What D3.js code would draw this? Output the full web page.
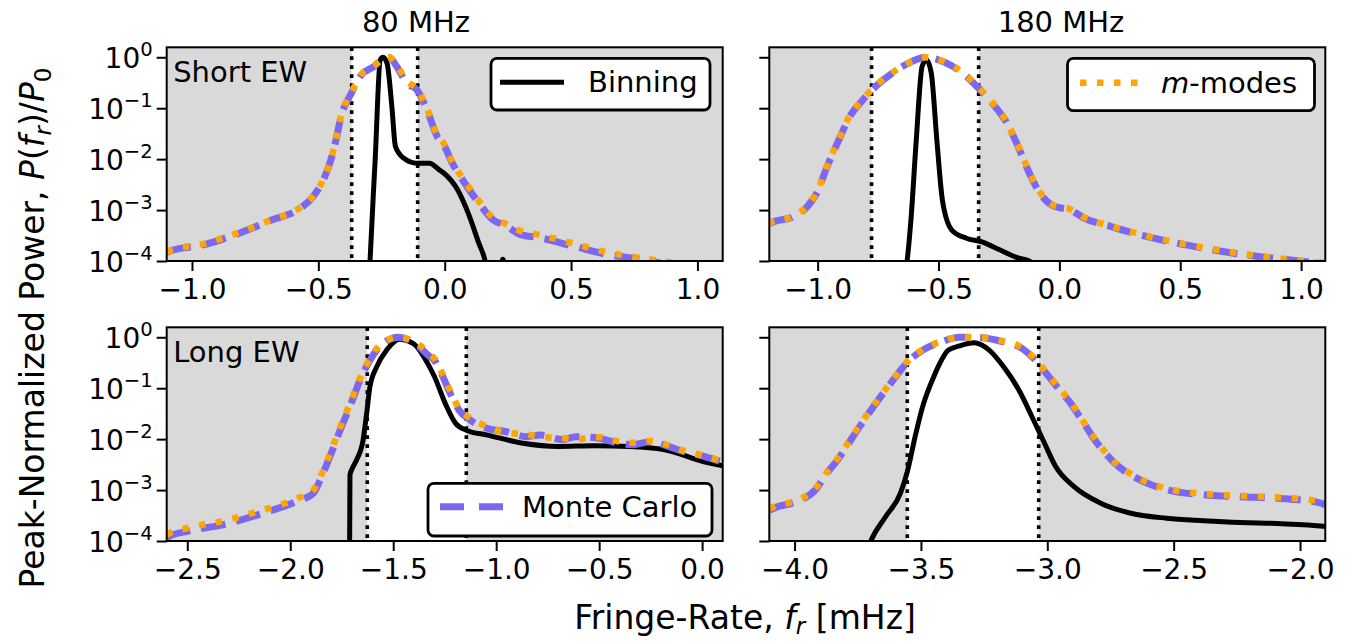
<!DOCTYPE html>
<html>
<head>
<meta charset="utf-8">
<script src="https://cdn.jsdelivr.net/npm/d3@7"></script>
<style>
  body { margin: 0; background: #fff; }
  text { font-family: "DejaVu Sans", sans-serif; }
</style>
</head>
<body>
<div id="chart"></div>
<script>
// ---- Data: [fringe rate (mHz), peak-normalized power] ----

// 80 MHz, Short EW
const shortLowBinning = [[-0.300, 3e-5], [-0.296, 8.9e-5], [-0.275, 0.010], [-0.255, 0.89], [-0.244, 1.0],
  [-0.228, 0.76], [-0.209, 0.107], [-0.195, 0.0178], [-0.163, 0.0105], [-0.110, 0.0083], [-0.060, 0.0083],
  [-0.024, 0.0063], [-0.005, 0.0054], [0.051, 0.0025], [0.093, 8.7e-4], [0.135, 2.24e-4], [0.160, 1.0e-4],
  [0.175, 4e-5], [0.215, 5e-5], [0.230, 1.08e-4], [0.245, 5e-5]]
const shortLowMC = [[-1.10, 1.45e-4], [-1.09, 1.55e-4], [-0.95, 2.1e-4], [-0.81, 3.55e-4], [-0.68, 6.5e-4],
  [-0.58, 1.02e-3], [-0.52, 1.86e-3], [-0.48, 3.9e-3], [-0.45, 9.8e-3], [-0.43, 0.024], [-0.41, 0.069],
  [-0.37, 0.195], [-0.33, 0.45], [-0.28, 0.66], [-0.25, 0.89], [-0.22, 1.0], [-0.19, 0.66], [-0.15, 0.31],
  [-0.11, 0.23], [-0.07, 0.093], [-0.03, 0.028], [0.00, 0.0178], [0.023, 0.0098], [0.079, 0.0034],
  [0.135, 1.38e-3], [0.19, 6.5e-4], [0.24, 5.0e-4], [0.30, 3.3e-4], [0.37, 2.9e-4], [0.51, 1.95e-4],
  [0.65, 1.32e-4], [0.79, 1.05e-4], [0.95, 7e-5], [1.10, 5e-5]]
const shortLowMM = [[-1.10, 1.5e-4], [-1.09, 1.58e-4], [-0.95, 2.2e-4], [-0.81, 3.7e-4], [-0.68, 6.6e-4],
  [-0.58, 1.05e-3], [-0.52, 1.9e-3], [-0.48, 4.0e-3], [-0.45, 0.010], [-0.43, 0.025], [-0.41, 0.072],
  [-0.37, 0.20], [-0.33, 0.46], [-0.28, 0.68], [-0.25, 0.90], [-0.22, 1.0], [-0.19, 0.70], [-0.15, 0.34],
  [-0.11, 0.24], [-0.07, 0.10], [-0.03, 0.030], [0.00, 0.019], [0.023, 0.0105], [0.079, 0.0037],
  [0.135, 1.5e-3], [0.19, 7.2e-4], [0.24, 5.4e-4], [0.30, 3.9e-4], [0.37, 3.3e-4], [0.51, 2.2e-4],
  [0.65, 1.45e-4], [0.79, 1.12e-4], [0.95, 8.5e-5], [1.10, 6e-5]]
const shortLowEdges = [-0.368, -0.107]

// 180 MHz, Short EW
const shortHighBinning = [[-0.640, 5e-5], [-0.630, 1.0e-4], [-0.614, 6.5e-4], [-0.592, 0.024], [-0.568, 0.66],
  [-0.550, 0.89], [-0.530, 0.49], [-0.507, 0.024], [-0.484, 1.58e-3], [-0.446, 4.1e-4], [-0.385, 2.8e-4],
  [-0.324, 2.4e-4], [-0.247, 1.66e-4], [-0.171, 1.15e-4], [-0.125, 1.0e-4], [-0.080, 7e-5]]
const shortHighMC = [[-1.20, 5.0e-4], [-1.195, 5.5e-4], [-1.103, 7.4e-4], [-1.043, 1.17e-3], [-0.997, 2.5e-3],
  [-0.966, 6.2e-3], [-0.912, 0.024], [-0.867, 0.069], [-0.813, 0.145], [-0.752, 0.29], [-0.691, 0.49],
  [-0.630, 0.74], [-0.553, 1.0], [-0.477, 0.81], [-0.400, 0.49], [-0.339, 0.26], [-0.278, 0.126],
  [-0.217, 0.051], [-0.171, 0.0178], [-0.125, 5.4e-3], [-0.079, 2.1e-3], [-0.018, 1.17e-3], [0.043, 1.02e-3],
  [0.104, 6.9e-4], [0.211, 4.8e-4], [0.364, 3.0e-4], [0.517, 2.1e-4], [0.670, 1.55e-4], [0.823, 1.23e-4],
  [0.976, 1.02e-4], [1.10, 8.9e-5]]
const shortHighMM = [[-1.20, 5.1e-4], [-1.195, 5.6e-4], [-1.103, 7.5e-4], [-1.043, 1.2e-3], [-0.997, 2.6e-3],
  [-0.966, 6.4e-3], [-0.912, 0.025], [-0.867, 0.071], [-0.813, 0.15], [-0.752, 0.30], [-0.691, 0.50],
  [-0.630, 0.75], [-0.553, 1.0], [-0.477, 0.82], [-0.400, 0.50], [-0.339, 0.27], [-0.278, 0.13],
  [-0.217, 0.053], [-0.171, 0.0185], [-0.125, 5.6e-3], [-0.079, 2.2e-3], [-0.018, 1.2e-3], [0.043, 1.05e-3],
  [0.104, 7.1e-4], [0.211, 4.9e-4], [0.364, 3.1e-4], [0.517, 2.15e-4], [0.670, 1.6e-4], [0.823, 1.26e-4],
  [0.976, 1.04e-4], [1.10, 9e-5]]
const shortHighEdges = [-0.777, -0.334]

// 80 MHz, Long EW
const longLowBinning = [[-1.712, 5e-5], [-1.710, 2.0e-3], [-1.700, 2.6e-3], [-1.678, 3.9e-3], [-1.646, 9.8e-3],
  [-1.629, 0.032], [-1.613, 0.107], [-1.581, 0.26], [-1.532, 0.56], [-1.468, 0.91], [-1.404, 0.76],
  [-1.323, 0.26], [-1.300, 0.17], [-1.248, 0.051], [-1.197, 0.0204], [-1.145, 0.015], [-1.042, 0.012],
  [-0.870, 0.0083], [-0.697, 0.0072], [-0.526, 0.0074], [-0.353, 0.0072], [-0.181, 0.0062], [0.009, 0.0036],
  [0.100, 0.0030]]
const longLowMC = [[-2.60, 1.12e-4], [-2.589, 1.23e-4], [-2.50, 1.55e-4], [-2.323, 2.1e-4], [-2.129, 3.55e-4],
  [-1.968, 6.0e-4], [-1.888, 8.7e-4], [-1.847, 1.86e-3], [-1.807, 4.6e-3], [-1.758, 0.015], [-1.710, 0.044],
  [-1.661, 0.145], [-1.613, 0.355], [-1.549, 0.76], [-1.476, 1.0], [-1.404, 0.81], [-1.323, 0.42],
  [-1.300, 0.355], [-1.266, 0.195], [-1.223, 0.079], [-1.180, 0.037], [-1.128, 0.024], [-1.042, 0.0162],
  [-0.956, 0.0141], [-0.853, 0.0112], [-0.784, 0.012], [-0.680, 0.0098], [-0.612, 0.0112], [-0.508, 0.0105],
  [-0.405, 0.0083], [-0.336, 0.0078], [-0.250, 0.0089], [-0.164, 0.0072], [-0.095, 0.0058], [0.009, 0.0046],
  [0.100, 0.00355]]
const longLowMM = [[-2.60, 1.3e-4], [-2.589, 1.4e-4], [-2.50, 1.8e-4], [-2.323, 2.5e-4], [-2.129, 4.1e-4],
  [-1.968, 6.8e-4], [-1.888, 1.0e-3], [-1.847, 2.1e-3], [-1.807, 5.2e-3], [-1.758, 0.017], [-1.710, 0.05],
  [-1.661, 0.16], [-1.613, 0.38], [-1.549, 0.80], [-1.476, 1.0], [-1.404, 0.85], [-1.323, 0.47],
  [-1.300, 0.38], [-1.266, 0.21], [-1.223, 0.088], [-1.180, 0.040], [-1.128, 0.026], [-1.042, 0.0175],
  [-0.956, 0.0135], [-0.853, 0.0125], [-0.784, 0.0110], [-0.680, 0.0105], [-0.612, 0.0100], [-0.508, 0.0110],
  [-0.405, 0.0090], [-0.336, 0.0085], [-0.250, 0.0092], [-0.164, 0.0076], [-0.095, 0.0060], [0.009, 0.0047],
  [0.100, 0.0036]]
const longLowEdges = [-1.626, -1.145]

// 180 MHz, Long EW
const longHighBinning = [[-3.720, 5e-5], [-3.698, 1.0e-4], [-3.640, 3.0e-4], [-3.581, 8.7e-4], [-3.552, 2.5e-3],
  [-3.523, 0.0112], [-3.493, 0.044], [-3.449, 0.17], [-3.391, 0.56], [-3.347, 0.68], [-3.289, 0.78],
  [-3.230, 0.56], [-3.172, 0.26], [-3.113, 0.093], [-3.055, 0.024], [-3.011, 8.3e-3], [-2.967, 2.9e-3],
  [-2.894, 1.17e-3], [-2.791, 5.6e-4], [-2.674, 3.55e-4], [-2.528, 2.8e-4], [-2.382, 2.5e-4], [-2.236, 2.3e-4],
  [-2.089, 2.2e-4], [-1.907, 1.95e-4], [-1.900, 1.93e-4]]
const longHighMC = [[-4.10, 4.0e-4], [-4.078, 4.5e-4], [-3.990, 6.0e-4], [-3.917, 1.02e-3], [-3.874, 2.1e-3],
  [-3.830, 3.9e-3], [-3.786, 8.3e-3], [-3.742, 0.0178], [-3.698, 0.037], [-3.654, 0.074], [-3.610, 0.145],
  [-3.552, 0.33], [-3.493, 0.56], [-3.420, 0.81], [-3.347, 1.0], [-3.259, 0.98], [-3.172, 0.81],
  [-3.113, 0.66], [-3.055, 0.39], [-3.004, 0.195], [-2.952, 0.093], [-2.908, 0.051], [-2.864, 0.024],
  [-2.821, 0.0112], [-2.777, 5.8e-3], [-2.718, 2.9e-3], [-2.660, 1.86e-3], [-2.587, 1.26e-3], [-2.528, 1.02e-3],
  [-2.382, 8.1e-4], [-2.236, 7.4e-4], [-2.089, 6.9e-4], [-2.017, 6.5e-4], [-1.914, 5.5e-4], [-1.900, 5.0e-4]]
const longHighMM = [[-4.10, 4.3e-4], [-4.078, 4.8e-4], [-3.990, 6.3e-4], [-3.917, 1.08e-3], [-3.874, 2.2e-3],
  [-3.830, 4.1e-3], [-3.786, 8.8e-3], [-3.742, 0.019], [-3.698, 0.039], [-3.654, 0.077], [-3.610, 0.15],
  [-3.552, 0.34], [-3.493, 0.58], [-3.420, 0.83], [-3.347, 1.0], [-3.259, 0.99], [-3.172, 0.83],
  [-3.113, 0.68], [-3.055, 0.41], [-3.004, 0.205], [-2.952, 0.098], [-2.908, 0.054], [-2.864, 0.025],
  [-2.821, 0.0118], [-2.777, 6.1e-3], [-2.718, 3.0e-3], [-2.660, 1.95e-3], [-2.587, 1.32e-3], [-2.528, 1.07e-3],
  [-2.382, 8.5e-4], [-2.236, 7.7e-4], [-2.089, 7.2e-4], [-2.017, 6.8e-4], [-1.914, 5.9e-4], [-1.900, 5.5e-4]]
const longHighEdges = [-3.554, -3.034]

const colTitles = ["80 MHz", "180 MHz"]
const rowLabels = ["Short EW", "Long EW"]
const yTickValues = [1e-4, 1e-3, 1e-2, 1e-1, 1]
const yTickExponents = ["\u22124", "\u22123", "\u22122", "\u22121", "0"]
const xTicksShortLow = [-1.0, -0.5, 0.0, 0.5, 1.0]
const xTicksShortHigh = [-1.0, -0.5, 0.0, 0.5, 1.0]
const xTicksLongLow = [-2.5, -2.0, -1.5, -1.0, -0.5, 0.0]
const xTicksLongHigh = [-4.0, -3.5, -3.0, -2.5, -2.0]

// ---- Layout ----
const W = 1351, H = 643
const panelW = 556, panelH = 213.7
const colLeft = [166.7, 769.3]
const rowTop = [47.3, 327.3]
const titleX = [416, 1061]
const fontSize = 28
const labelSize = 33

const colors = {
    binning: "#000000",
    mc: "#7b68ee",
    mm: "#ffa500",
    shade: "#d9d9d9"
}

const svg = d3.select("#chart")
    .append("svg")
    .attr("width", W)
    .attr("height", H)
    .style("font-family", "'DejaVu Sans', sans-serif")

const panels = [
    {row: 0, col: 0, xDomain: [-1.1, 1.1], ticks: xTicksShortLow, edges: shortLowEdges,
     binning: shortLowBinning, mc: shortLowMC, mm: shortLowMM},
    {row: 0, col: 1, xDomain: [-1.2, 1.1], ticks: xTicksShortHigh, edges: shortHighEdges,
     binning: shortHighBinning, mc: shortHighMC, mm: shortHighMM},
    {row: 1, col: 0, xDomain: [-2.6, 0.1], ticks: xTicksLongLow, edges: longLowEdges,
     binning: longLowBinning, mc: longLowMC, mm: longLowMM},
    {row: 1, col: 1, xDomain: [-4.1, -1.9], ticks: xTicksLongHigh, edges: longHighEdges,
     binning: longHighBinning, mc: longHighMC, mm: longHighMM}
]

const fmt = d3.format(".1f")

panels.forEach((p, i) => {
    const left = colLeft[p.col], top = rowTop[p.row]
    const g = svg.append("g").attr("transform", `translate(${left},${top})`)

    const x = d3.scaleLinear().domain(p.xDomain).range([0, panelW])
    const y = d3.scaleLog().domain([1e-4, 1.57]).range([panelH, 0])

    // clip
    g.append("clipPath").attr("id", "clip" + i)
        .append("rect").attr("width", panelW).attr("height", panelH)
    const plot = g.append("g").attr("clip-path", `url(#clip${i})`)

    // shaded background outside the edges
    plot.append("rect")
        .attr("x", 0).attr("y", 0)
        .attr("width", x(p.edges[0])).attr("height", panelH)
        .attr("fill", colors.shade)
    plot.append("rect")
        .attr("x", x(p.edges[1])).attr("y", 0)
        .attr("width", panelW - x(p.edges[1])).attr("height", panelH)
        .attr("fill", colors.shade)

    // edge lines
    plot.selectAll(".edge")
        .data(p.edges)
        .enter()
        .append("line")
        .attr("x1", d => x(d)).attr("x2", d => x(d))
        .attr("y1", 0).attr("y2", panelH)
        .attr("stroke", "black")
        .attr("stroke-width", 3.6)
        .attr("stroke-dasharray", "3.6,5.4")

    const line = d3.line()
        .x(d => x(d[0]))
        .y(d => y(d[1]))
        .curve(d3.curveMonotoneX)

    plot.append("path").datum(p.binning)
        .attr("d", line)
        .attr("fill", "none")
        .attr("stroke", colors.binning)
        .attr("stroke-width", 5)
        .attr("stroke-linejoin", "round")

    plot.append("path").datum(p.mc)
        .attr("d", line)
        .attr("fill", "none")
        .attr("stroke", colors.mc)
        .attr("stroke-width", 7)
        .attr("stroke-dasharray", "25,11")

    plot.append("path").datum(p.mm)
        .attr("d", line)
        .attr("fill", "none")
        .attr("stroke", colors.mm)
        .attr("stroke-width", 6.5)
        .attr("stroke-dasharray", "6.5,10.5")

    // axes
    const xAxis = g.append("g")
        .attr("transform", `translate(0,${panelH})`)
        .call(d3.axisBottom(x).tickValues(p.ticks).tickSize(10).tickPadding(8).tickFormat(fmt))
    xAxis.select(".domain").remove()
    xAxis.selectAll("line").attr("stroke-width", 2)
    xAxis.selectAll("text").attr("font-size", fontSize).attr("font-family", "'DejaVu Sans', sans-serif")

    const yAxis = g.append("g")
        .call(d3.axisLeft(y).tickValues(yTickValues).tickSize(10).tickFormat(""))
    yAxis.select(".domain").remove()
    yAxis.selectAll("line").attr("stroke-width", 2)

    if (p.col === 0) {
        yAxis.selectAll(".tick text").remove()
        yAxis.selectAll(".tick").each(function(d, j) {
            const t = d3.select(this).append("text")
                .attr("x", -14)
                .attr("y", 10)
                .attr("fill", "black")
                .attr("text-anchor", "end")
                .attr("font-size", fontSize)
            t.append("tspan").text("10")
            t.append("tspan").attr("dy", -12).attr("font-size", fontSize * 0.7)
                .text(yTickExponents[j])
        })
    }

    // frame
    g.append("rect")
        .attr("width", panelW).attr("height", panelH)
        .attr("fill", "none")
        .attr("stroke", "black")
        .attr("stroke-width", 2)

    if (p.col === 0) {
        g.append("text")
            .attr("x", 6.5).attr("y", 34.4)
            .attr("font-size", 29)
            .text(rowLabels[p.row])
    }
    if (p.row === 0) {
        svg.append("text")
            .attr("x", titleX[p.col]).attr("y", 32)
            .attr("text-anchor", "middle")
            .attr("font-size", 29)
            .text(colTitles[p.col])
    }
})

// ---- Legends ----
function legend(box, lineSpec, label) {
    const g = svg.append("g")
    g.append("rect")
        .attr("x", box[0]).attr("y", box[1])
        .attr("width", box[2]).attr("height", box[3])
        .attr("rx", 6)
        .attr("fill", "white")
        .attr("stroke", "black")
        .attr("stroke-width", 2.8)
    g.append("line")
        .attr("x1", lineSpec.x1).attr("x2", lineSpec.x2)
        .attr("y1", lineSpec.y).attr("y2", lineSpec.y)
        .attr("stroke", lineSpec.color)
        .attr("stroke-width", lineSpec.width)
        .attr("stroke-dasharray", lineSpec.dash)
    const t = g.append("text")
        .attr("x", lineSpec.tx).attr("y", lineSpec.y + 10)
        .attr("font-size", 29)
    label(t)
}

legend([491, 58.3, 219, 51.7],
    {x1: 500, x2: 564, y: 82.3, color: colors.binning, width: 5, dash: null, tx: 588},
    t => t.text("Binning"))

legend([1067.5, 58.3, 247, 52.4],
    {x1: 1080, x2: 1140, y: 82.7, color: colors.mm, width: 6.5, dash: "6.5,10.5", tx: 1161},
    t => { t.append("tspan").attr("font-style", "italic").text("m"); t.append("tspan").text("-modes") })

legend([428, 483.3, 284, 52.7],
    {x1: 440, x2: 503, y: 506.7, color: colors.mc, width: 7, dash: "24,15", tx: 522},
    t => t.text("Monte Carlo"))

// ---- Axis labels ----
const xl = svg.append("text")
    .attr("x", 745).attr("y", 629)
    .attr("text-anchor", "middle")
    .attr("font-size", labelSize)
xl.append("tspan").text("Fringe-Rate, ")
xl.append("tspan").attr("font-style", "italic").text("f")
xl.append("tspan").attr("font-style", "italic").attr("font-size", labelSize * 0.7).attr("dy", 5).text("r")
xl.append("tspan").attr("dy", -5).text(" [mHz]")

const yl = svg.append("text")
    .attr("transform", "translate(44,328) rotate(-90)")
    .attr("text-anchor", "middle")
    .attr("font-size", labelSize)
yl.append("tspan").text("Peak-Normalized Power, ")
yl.append("tspan").attr("font-style", "italic").text("P")
yl.append("tspan").text("(")
yl.append("tspan").attr("font-style", "italic").text("f")
yl.append("tspan").attr("font-style", "italic").attr("font-size", labelSize * 0.7).attr("dy", 7).text("r")
yl.append("tspan").attr("dy", -7).text(")/")
yl.append("tspan").attr("font-style", "italic").text("P")
yl.append("tspan").attr("font-size", labelSize * 0.7).attr("dy", 7).text("0")
</script>
</body>
</html>
